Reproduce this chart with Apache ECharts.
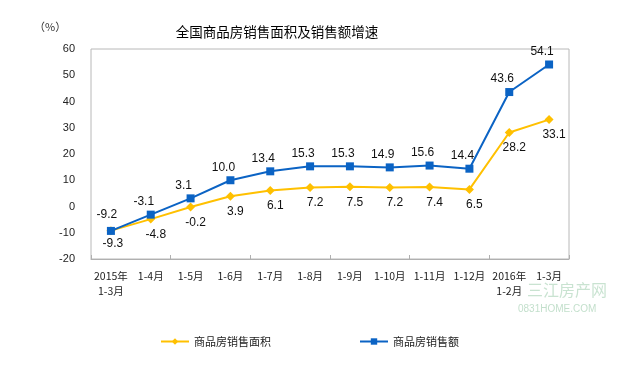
<!DOCTYPE html>
<html><head><meta charset="utf-8">
<script src="https://cdn.jsdelivr.net/npm/echarts@6/dist/echarts.min.js"></script>
<style>html,body{margin:0;padding:0;background:#fff}#c{width:640px;height:367px}</style>
</head><body><div id="c"></div>
<script>
const categories = ['2015年\n1-3月','1-4月','1-5月','1-6月','1-7月','1-8月','1-9月','1-10月','1-11月','1-12月','2016年\n1-2月','1-3月'];
const areaGrowth = [-9.2, -4.8, -0.2, 3.9, 6.1, 7.2, 7.5, 7.2, 7.4, 6.5, 28.2, 33.1];
const amountGrowth = [-9.3, -3.1, 3.1, 10.0, 13.4, 15.3, 15.3, 14.9, 15.6, 14.4, 43.6, 54.1];
const yTicks = {min: -20, max: 60, interval: 10};
const seriesNames = ['商品房销售面积', '商品房销售额'];

const yellow = '#FFC000', blue = '#0B63C4';
const chart = echarts.init(document.getElementById('c'));
const lblFont = {fontFamily: 'Liberation Sans, Arial, sans-serif', fontSize: 12, color: '#111'};

const areaData = areaGrowth.map((v, i) => i === 0
  ? {value: v, label: {position: 'top', offset: [-4, 0]}} : v);
const amountData = amountGrowth.map((v, i) => i === 0
  ? {value: v, label: {position: 'bottom', offset: [2, 0]}} : v);

chart.setOption({
  animation: false,
  title: {
    text: '全国商品房销售面积及销售额增速', left: 272, top: 20, textAlign: 'center',
    textStyle: {fontSize: 13.5, fontWeight: 'normal', color: '#000', fontFamily: 'Noto Sans CJK SC'}
  },
  graphic: [
    {type: 'text', left: 34, top: 21, style: {text: '（%）', fontSize: 11, fill: '#333', fontFamily: 'Noto Sans CJK SC'}},
    {type: 'text', left: 527, top: 282, style: {text: '三江房产网', fontSize: 16, fill: 'rgba(120,185,140,0.4)', fontFamily: 'Noto Sans CJK SC'}},
    {type: 'text', left: 518, top: 304, style: {text: '0831HOME.COM', fontSize: 10, fill: 'rgba(120,185,140,0.45)', fontFamily: 'Liberation Sans'}}
  ],
  legend: {
    left: 155, top: 331, itemGap: 88, itemWidth: 28, itemHeight: 8,
    textStyle: {fontSize: 11, color: '#222', fontFamily: 'Noto Sans CJK SC'},
    data: seriesNames
  },
  grid: {left: 91, right: 71, top: 49, bottom: 108, show: true, borderColor: '#b8b8b8', borderWidth: 1},
  xAxis: [
    {type: 'category', data: categories, boundaryGap: true, position: 'bottom',
     axisLine: {show: false}, axisTick: {show: false},
     axisLabel: {margin: 10, fontSize: 10.5, color: '#222', lineHeight: 15, interval: 0, fontFamily: 'Noto Sans CJK SC'}},
    {type: 'category', data: categories, boundaryGap: true, position: 'bottom',
     axisLine: {show: true, onZero: true, lineStyle: {color: '#b0b0b0'}},
     axisTick: {show: true, inside: true, length: 4, lineStyle: {color: '#b0b0b0'}},
     axisLabel: {show: false}}
  ],
  yAxis: {
    type: 'value', min: yTicks.min, max: yTicks.max, interval: yTicks.interval,
    axisLine: {show: false}, axisTick: {show: false}, splitLine: {show: false},
    axisLabel: {margin: 16, fontSize: 11, color: '#222', fontFamily: 'Liberation Sans, Arial'}
  },
  series: [
    {name: seriesNames[0], type: 'line', data: areaData, xAxisIndex: 0,
     symbol: 'diamond', symbolSize: 9, color: yellow,
     lineStyle: {width: 2, color: yellow}, itemStyle: {color: yellow},
     label: Object.assign({show: true, position: 'bottom', distance: 5, offset: [5, 0],
       formatter: p => p.value.toFixed(1)}, lblFont), z: 3},
    {name: seriesNames[1], type: 'line', data: amountData, xAxisIndex: 0,
     symbol: 'rect', symbolSize: 8, color: blue,
     lineStyle: {width: 2, color: blue}, itemStyle: {color: blue},
     label: Object.assign({show: true, position: 'top', distance: 3, offset: [-7, 0],
       formatter: p => p.value.toFixed(1)}, lblFont), z: 4}
  ]
});
</script></body></html>
